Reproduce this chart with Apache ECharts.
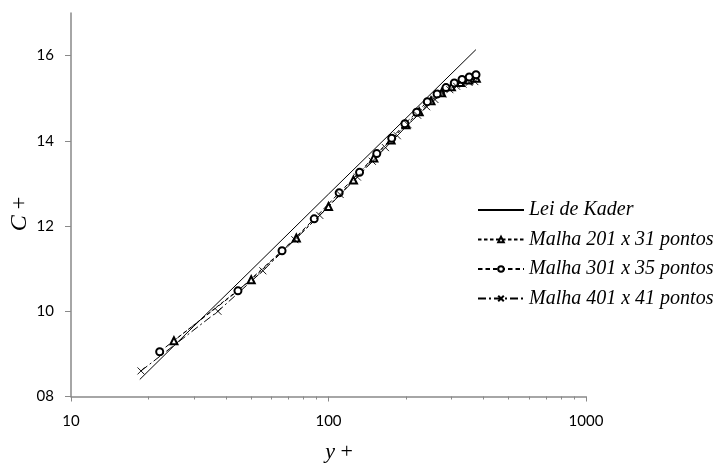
<!DOCTYPE html>
<html><head><meta charset="utf-8">
<script src="https://cdn.jsdelivr.net/npm/echarts@6/dist/echarts.min.js"></script>
<style>html,body{margin:0;padding:0;background:#fff}#c{width:720px;height:466px}</style>
</head><body><div id="c"></div>
<script>
const seriesNames = ['Lei de Kader', 'Malha 201 x 31 pontos', 'Malha 301 x 35 pontos', 'Malha 401 x 41 pontos'];

const kaderYPlus = [18.5, 30, 50, 100, 200, 373.6];
const kaderC     = [8.40, 9.65, 10.96, 12.75, 14.53, 16.14];

const m201YPlus = [25.1, 50.1, 75, 100, 125, 150, 175, 200, 225, 250, 275, 300, 325, 350, 375];
const m201C     = [9.31, 10.74, 11.72, 12.46, 13.08, 13.60, 14.02, 14.38, 14.68, 14.94, 15.13, 15.27, 15.37, 15.43, 15.47];

const m301YPlus = [22.1, 44.5, 66, 88, 110, 132, 154, 176, 198, 220, 242, 264, 286, 308, 330, 352, 374];
const m301C     = [9.05, 10.48, 11.42, 12.17, 12.78, 13.26, 13.70, 14.06, 14.40, 14.67, 14.92, 15.10, 15.25, 15.36, 15.44, 15.50, 15.55];

const m401YPlus = [18.7, 37.2, 55.6, 74, 92.5, 111, 129.5, 148, 166.5, 185, 203.5, 222, 240.5, 259, 277.5, 296, 314.5, 333, 351.5, 370];
const m401C     = [8.60, 10.00, 10.95, 11.68, 12.25, 12.74, 13.15, 13.52, 13.84, 14.12, 14.38, 14.60, 14.80, 14.97, 15.10, 15.20, 15.28, 15.33, 15.37, 15.39];

const yTickValues = [8, 10, 12, 14, 16];
const xMajorTickValues = [10, 100, 1000];
const xMinorTickValues = [20, 30, 40, 50, 60, 70, 80, 90, 200, 300, 400, 500, 600, 700, 800, 900];

function zip(a, b) { return a.map((v, i) => [v, b[i]]); }

const axisColor = '#898989';
const labelFont = { fontFamily: 'Lato, "Open Sans", sans-serif', fontSize: 15, color: '#000' };
const serif = '"Liberation Serif", "Times New Roman", serif';

const chart = echarts.init(document.getElementById('c'), null, { renderer: 'canvas' });
chart.setOption({
  animation: false,
  backgroundColor: '#fff',
  grid: { left: 71, right: 134, top: 13, bottom: 69.5, containLabel: false },
  xAxis: [{
    type: 'log', logBase: 10, min: 10, max: 1000,
    axisLine: { show: true, lineStyle: { color: axisColor, width: 1.5 } },
    axisTick: { show: true, length: 5, inside: false, customValues: xMajorTickValues, lineStyle: { color: axisColor, width: 1 } },
    axisLabel: Object.assign({ margin: 17, customValues: xMajorTickValues, formatter: v => String(Math.round(v)) }, labelFont),
    splitLine: { show: false }, minorTick: { show: false }
  }, {
    type: 'log', logBase: 10, min: 10, max: 1000, position: 'bottom',
    axisLine: { show: false },
    axisTick: { show: true, length: 3, customValues: xMinorTickValues, lineStyle: { color: axisColor, width: 1 } },
    axisLabel: { show: false }, splitLine: { show: false }
  }],
  yAxis: {
    type: 'value', min: 8, max: 17,
    axisLine: { show: true, lineStyle: { color: axisColor, width: 1.5 } },
    axisTick: { show: true, length: 6, customValues: yTickValues, lineStyle: { color: axisColor, width: 1 } },
    axisLabel: Object.assign({ margin: 17, customValues: yTickValues, formatter: v => (v < 10 ? '0' : '') + v }, labelFont),
    splitLine: { show: false }
  },
  legend: {
    orient: 'vertical', left: 477, top: 200, padding: 0,
    itemWidth: 46, itemHeight: 7, itemGap: 9.5,
    data: [
      { name: seriesNames[0], itemStyle: { opacity: 0 } },
      { name: seriesNames[1] },
      { name: seriesNames[2] },
      { name: seriesNames[3] }
    ],
    textStyle: { fontFamily: serif, fontStyle: 'italic', fontSize: 20, color: '#000' }
  },
  graphic: [
    { type: 'text', x: 20, y: 214, rotation: Math.PI / 2,
      style: { text: '{i|C} +', align: 'center', verticalAlign: 'middle', fill: '#000',
        font: '23px ' + serif,
        rich: { i: { fontStyle: 'italic', fontFamily: serif, fontSize: 24 } } } },
    { type: 'text', x: 339, y: 452,
      style: { text: '{i|y} +', align: 'center', verticalAlign: 'middle', fill: '#000',
        font: '22px ' + serif,
        rich: { i: { fontStyle: 'italic', fontFamily: serif, fontSize: 22 } } } }
  ],
  series: [{
    name: seriesNames[0], type: 'line', data: zip(kaderYPlus, kaderC), showSymbol: false, symbol: 'none',
    lineStyle: { color: '#000', width: 1, type: 'solid' }, itemStyle: { color: '#000' }
  }, {
    name: seriesNames[1], type: 'line', data: zip(m201YPlus, m201C), symbol: 'emptyTriangle', symbolSize: 7,
    lineStyle: { color: '#000', width: 1, type: [3.5, 2.5] }, itemStyle: { color: '#000', borderColor: '#000', borderWidth: 0.8 }
  }, {
    name: seriesNames[2], type: 'line', data: zip(m301YPlus, m301C), symbol: 'emptyCircle', symbolSize: 7,
    lineStyle: { color: '#000', width: 1, type: [4.5, 3] }, itemStyle: { color: '#000', borderColor: '#000', borderWidth: 0.8 }
  }, {
    name: seriesNames[3], type: 'line', data: zip(m401YPlus, m401C), symbol: 'path://M0,0L10,10M10,0L0,10', symbolSize: 7,
    lineStyle: { color: '#000', width: 1, type: [8, 3, 2, 3] }, itemStyle: { color: 'none', borderColor: '#000', borderWidth: 0.9 }
  }]
});
</script></body></html>
